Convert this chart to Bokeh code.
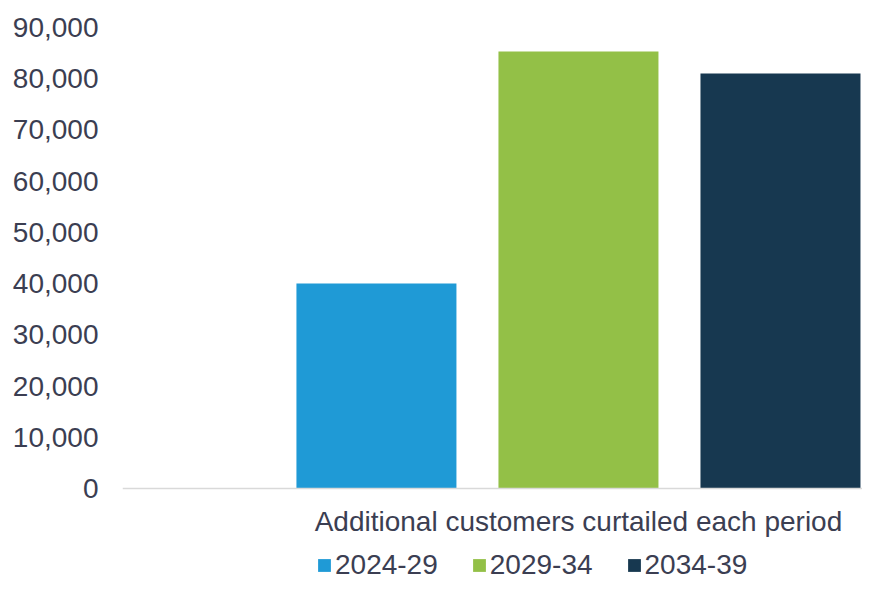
from bokeh.plotting import figure
from bokeh.models import (Range1d, NumeralTickFormatter, FixedTicker, Legend, LegendItem,
                          ColumnDataSource)
from bokeh.embed import file_html
from bokeh.resources import INLINE

# ---- data ----
series = ["2024-29", "2029-34", "2034-39"]
values = [40000, 85300, 81000]
colors = ["#1f9ad6", "#93c047", "#173850"]
category_label = "Additional customers curtailed each period"
y_ticks = [0, 10000, 20000, 30000, 40000, 50000, 60000, 70000, 80000, 90000]

FONT = "Liberation Sans"
TXT = "#3b3e52"

# the frame extends below zero to leave room for the category label and legend
p = figure(width=862, height=581, output_backend="svg", toolbar_location=None,
           x_range=Range1d(-0.257, 3.406), y_range=Range1d(-18156, 90000),
           min_border_left=122, min_border_right=0, min_border_top=27,
           min_border_bottom=0)
p.outline_line_color = None
p.background_fill_color = "white"
p.border_fill_color = "white"
p.xgrid.visible = False
p.ygrid.visible = False

items = []
for i, (s, v, c) in enumerate(zip(series, values, colors)):
    src = ColumnDataSource(dict(x=[i + 1], top=[v]))
    r = p.vbar(x="x", top="top", bottom=0, width=0.792, source=src,
               fill_color=c, line_color=None)
    items.append(LegendItem(label=s, renderers=[r]))

# y axis
ya = p.yaxis[0]
ya.ticker = FixedTicker(ticks=y_ticks)
ya.formatter = NumeralTickFormatter(format="0,0")
ya.axis_line_color = None
ya.major_tick_line_color = None
ya.minor_tick_line_color = None
ya.major_tick_out = 0
ya.major_tick_in = 0
ya.major_label_standoff = 24
ya.major_label_text_font = FONT
ya.major_label_text_font_size = "28px"
ya.major_label_text_color = TXT

# x axis, pinned at y = 0
xa = p.xaxis[0]
xa.fixed_location = 0
xa.ticker = FixedTicker(ticks=[2])
xa.major_label_overrides = {2: category_label}
xa.axis_line_color = "#d9d9d9"
xa.axis_line_width = 1.5
xa.major_tick_line_color = None
xa.minor_tick_line_color = None
xa.major_tick_out = 0
xa.major_tick_in = 0
xa.major_label_standoff = 17
xa.major_label_text_font = FONT
xa.major_label_text_font_size = "28px"
xa.major_label_text_color = TXT

legend = Legend(items=items, orientation="horizontal", location=(194, 0),
                glyph_width=16, glyph_height=16, label_standoff=3, spacing=33,
                padding=0, margin=0, border_line_color=None,
                background_fill_alpha=0,
                label_text_font=FONT, label_text_font_size="28px",
                label_text_color=TXT)
p.add_layout(legend, "center")

open("out.html", "w").write(file_html(p, INLINE))
